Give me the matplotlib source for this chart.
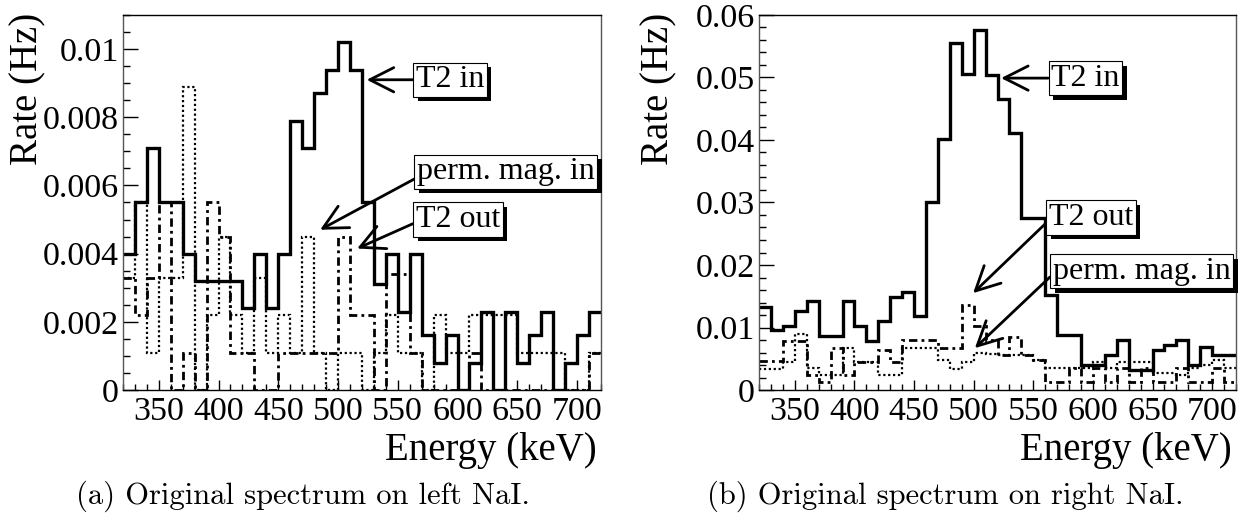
import numpy as np
import matplotlib
matplotlib.use('Agg')
import matplotlib.pyplot as plt
import matplotlib.patheffects as pe
from matplotlib.ticker import MultipleLocator, FormatStrFormatter

#------------------------------------------------------------------------------
# DATA (rate in Hz per 10 keV bin, 320-720 keV)

energy_edges = np.arange(320, 730, 10)

# left NaI
t2_in_left = [0.0040, 0.0055, 0.0071, 0.0055, 0.0055, 0.0040, 0.0032, 0.0032, 0.0032, 0.0032,
              0.0024, 0.0040, 0.0024, 0.0040, 0.0079, 0.0071, 0.0087, 0.0094, 0.0102, 0.0094,
              0.0055, 0.0031, 0.0040, 0.0023, 0.0040, 0.0016, 0.0008, 0.0016, 0.0000, 0.0008,
              0.0023, 0.0000, 0.0023, 0.0008, 0.0016, 0.0023, 0.0000, 0.0008, 0.0016, 0.0023]
perm_in_left = [0.0033, 0.0055, 0.0011, 0.0033, 0.0033, 0.0089, 0.0000, 0.0022, 0.0045, 0.0022,
                0.0011, 0.0033, 0.0011, 0.0022, 0.0011, 0.0045, 0.0011, 0.0000, 0.0011, 0.0011,
                0.0000, 0.0011, 0.0022, 0.0011, 0.0011, 0.0000, 0.0022, 0.0011, 0.0011, 0.0022,
                0.0022, 0.0022, 0.0022, 0.0011, 0.0011, 0.0011, 0.0011, 0.0000, 0.0000, 0.0011]
t2_out_left = [0.0033, 0.0022, 0.0033, 0.0055, 0.0000, 0.0011, 0.0000, 0.0055, 0.0045, 0.0011,
               0.0011, 0.0000, 0.0000, 0.0011, 0.0011, 0.0011, 0.0011, 0.0011, 0.0045, 0.0022,
               0.0022, 0.0000, 0.0034, 0.0034, 0.0011, 0.0000, 0.0000, 0.0000, 0.0000, 0.0011,
               0.0000, 0.0000, 0.0000, 0.0000, 0.0000, 0.0000, 0.0000, 0.0000, 0.0000, 0.0011]

# right NaI
t2_in_right = [0.0133, 0.0096, 0.0102, 0.0126, 0.0142, 0.0087, 0.0087, 0.0142, 0.0102, 0.0079,
               0.0111, 0.0149, 0.0157, 0.0118, 0.0300, 0.0401, 0.0555, 0.0506, 0.0576, 0.0504,
               0.0466, 0.0411, 0.0275, 0.0275, 0.0152, 0.0088, 0.0088, 0.0040, 0.0040, 0.0056,
               0.0080, 0.0032, 0.0032, 0.0064, 0.0072, 0.0080, 0.0040, 0.0069, 0.0056, 0.0056]
perm_in_right = [0.0033, 0.0033, 0.0045, 0.0089, 0.0035, 0.0024, 0.0024, 0.0067, 0.0045, 0.0045,
                 0.0024, 0.0024, 0.0067, 0.0067, 0.0067, 0.0048, 0.0033, 0.0045, 0.0060, 0.0058,
                 0.0056, 0.0056, 0.0056, 0.0048, 0.0035, 0.0035, 0.0035, 0.0035, 0.0045, 0.0035,
                 0.0045, 0.0045, 0.0045, 0.0027, 0.0027, 0.0024, 0.0035, 0.0040, 0.0048, 0.0035]
t2_out_right = [0.0047, 0.0047, 0.0079, 0.0079, 0.0024, 0.0013, 0.0067, 0.0024, 0.0045, 0.0045,
                0.0064, 0.0045, 0.0080, 0.0080, 0.0080, 0.0067, 0.0067, 0.0136, 0.0102, 0.0080,
                0.0056, 0.0085, 0.0056, 0.0048, 0.0013, 0.0013, 0.0035, 0.0013, 0.0035, 0.0013,
                0.0035, 0.0013, 0.0035, 0.0013, 0.0013, 0.0035, 0.0013, 0.0013, 0.0035, 0.0013]

captions = ['(a) Original spectrum on left NaI.', '(b) Original spectrum on right NaI.']

#------------------------------------------------------------------------------
# PLOT

plt.rcParams['font.family'] = 'Liberation Serif'

fig = plt.figure(figsize=(12.47, 5.15), dpi=100)
ax1 = fig.add_axes([0.0986, 0.2427, 0.3833, 0.7282])
ax2 = fig.add_axes([0.6087, 0.2427, 0.3825, 0.7282])

def draw_spectra(ax, t2in, perm, t2out):
    ax.stairs(perm, energy_edges, baseline=None, color='black', lw=1.6, ls=(0, (1, 1.2)))
    ax.stairs(t2out, energy_edges, baseline=None, color='black', lw=2.0, ls=(0, (3, 1.5, 1, 1.5)))
    ax.stairs(t2in, energy_edges, baseline=None, color='black', lw=2.4)

def style_axes(ax, ymax, ymajor, yminor, ylab_x):
    ax.set_xlim(320, 720)
    ax.set_ylim(0, ymax)
    ax.xaxis.set_major_locator(MultipleLocator(50))
    ax.xaxis.set_minor_locator(MultipleLocator(10))
    ax.yaxis.set_major_locator(MultipleLocator(ymajor))
    ax.yaxis.set_minor_locator(MultipleLocator(yminor))
    ax.yaxis.set_major_formatter(FormatStrFormatter('%g'))
    ax.tick_params(axis='both', which='both', direction='in', top=False, right=False)
    ax.tick_params(axis='y', which='major', length=11, width=1, labelsize=24.5, pad=3)
    ax.tick_params(axis='y', which='minor', length=5, width=1)
    ax.tick_params(axis='x', which='major', length=7, width=1, labelsize=24.5, pad=5)
    ax.tick_params(axis='x', which='minor', length=4, width=1)
    for s in ax.spines.values():
        s.set_linewidth(1)
    ax.spines['right'].set_color('#555555')
    ax.spines['left'].set_color('#555555')
    ax.text(ylab_x, 1.005, 'Rate (Hz)', rotation=90, ha='center', va='top',
            fontsize=28, transform=ax.transAxes)
    ax.text(0.992, -0.16, 'Energy (keV)', ha='right', va='center',
            fontsize=28, transform=ax.transAxes)

def note(ax, text, tip, anchor, relpos=(0, 0.5)):
    ann = ax.annotate(text, xy=tip, xytext=anchor, ha='left', va='center', fontsize=23,
                      zorder=7, annotation_clip=False,
                      bbox=dict(boxstyle='square,pad=0.08', fc='white', ec='black', lw=0.8),
                      arrowprops=dict(arrowstyle='->,head_length=0.75,head_width=0.38', lw=2,
                                      color='black', shrinkA=0, shrinkB=0, relpos=relpos))
    # black drop shadow of the label box
    ann.get_bbox_patch().set_path_effects([
        pe.SimplePatchShadow(offset=(3.2, -3.2), shadow_rgbFace='black', alpha=1.0),
        pe.Normal()])

draw_spectra(ax1, t2_in_left, perm_in_left, t2_out_left)
style_axes(ax1, 0.011, 0.002, 0.0005, -0.199)
note(ax1, 'T2 in', (524, 0.0091), (565, 0.0091))
note(ax1, 'perm. mag. in', (485, 0.0047), (566, 0.0064), relpos=(0, 0.3))
note(ax1, 'T2 out', (516, 0.00415), (565, 0.0050), relpos=(0, 0.4))

draw_spectra(ax2, t2_in_right, perm_in_right, t2_out_right)
style_axes(ax2, 0.06, 0.01, 0.002, -0.21)
note(ax2, 'T2 in', (523, 0.0499), (565, 0.0499))
note(ax2, 'T2 out', (499.5, 0.0155), (563, 0.0276), relpos=(0, 0.4))
note(ax2, 'perm. mag. in', (501, 0.0067), (566.5, 0.0190), relpos=(0, 0.4))

fig.text(303 / 1247, 1 - 496 / 515, captions[0], ha='center', va='center',
         family='cmr10', fontsize=22)
fig.text(945 / 1247, 1 - 496 / 515, captions[1], ha='center', va='center',
         family='cmr10', fontsize=22)

fig.savefig('out.png', dpi=100)
